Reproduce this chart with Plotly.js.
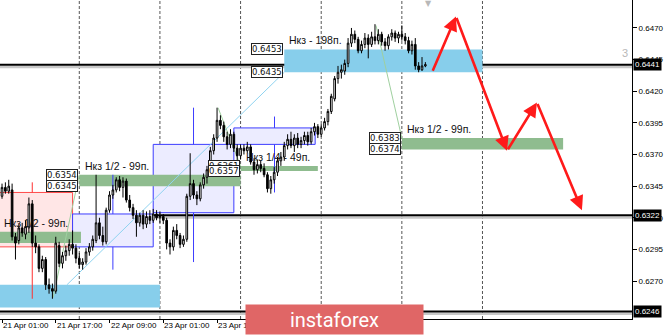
<!DOCTYPE html>
<html><head><meta charset="utf-8">
<script src="https://cdn.plot.ly/plotly-3.0.1.min.js"></script>
<style>html,body{margin:0;padding:0;background:#fff}#chart{width:665px;height:335px}</style>
</head><body><div id="chart"></div>
<script>
// ---- hourly candles (bar index 0 = 21 Apr 01:00) ----
const openP = [0.6337,0.6344,0.6341,0.6342,0.6305,0.6302,0.6312,0.6307,0.6312,0.6331,
 0.6300,0.6297,0.6280,0.6287,0.6267,0.6264,0.6262,0.6298,0.6284,0.6290,
 0.6294,0.6299,0.6296,0.6288,0.6283,0.6285,0.6293,0.6297,0.6302,0.6316,
 0.6306,0.6301,0.6326,0.6338,0.6342,0.6350,0.6344,0.6349,0.6334,0.6328,
 0.6322,0.6316,0.6322,0.6315,0.6321,0.6318,0.6323,0.6320,0.6321,0.6318,
 0.6300,0.6297,0.6310,0.6306,0.6299,0.6303,0.6337,0.6347,0.6338,0.6335,
 0.6346,0.6352,0.6358,0.6373,0.6383,0.6397,0.6393,0.6384,0.6378,0.6386,
 0.6375,0.6369,0.6375,0.6373,0.6376,0.6364,0.6358,0.6362,0.6359,0.6354,
 0.6343,0.6350,0.6356,0.6365,0.6368,0.6377,0.6382,0.6377,0.6383,0.6378,
 0.6381,0.6385,0.6380,0.6388,0.6392,0.6386,0.6391,0.6396,0.6404,0.6414,
 0.6430,0.6435,0.6436,0.6442,0.6458,0.6465,0.6461,0.6452,0.6457,0.6462,
 0.6457,0.6463,0.6460,0.6465,0.6459,0.6456,0.6463,0.6466,0.6462,0.6465,
 0.6463,0.6460,0.6452,0.6457,0.6440,0.6437,0.6440];
const highP = [0.6347,0.6348,0.6350,0.6347,0.6308,0.6315,0.6316,0.6318,0.6336,0.6334,
 0.6306,0.6299,0.6290,0.6289,0.6272,0.6268,0.6305,0.6301,0.6293,0.6298,
 0.6303,0.6310,0.6299,0.6292,0.6288,0.6296,0.6300,0.6306,0.6354,0.6320,
 0.6313,0.6328,0.6341,0.6346,0.6352,0.6353,0.6352,0.6351,0.6338,0.6331,
 0.6326,0.6324,0.6326,0.6325,0.6326,0.6327,0.6326,0.6325,0.6323,0.6320,
 0.6303,0.6313,0.6315,0.6308,0.6306,0.6339,0.6371,0.6350,0.6341,0.6348,
 0.6355,0.6361,0.6376,0.6386,0.6407,0.6401,0.6396,0.6388,0.6390,0.6388,
 0.6378,0.6378,0.6378,0.6380,0.6378,0.6367,0.6366,0.6365,0.6363,0.6356,
 0.6353,0.6360,0.6368,0.6372,0.6380,0.6386,0.6388,0.6386,0.6387,0.6384,
 0.6388,0.6388,0.6391,0.6395,0.6394,0.6394,0.6399,0.6406,0.6418,0.6432,
 0.6440,0.6441,0.6445,0.6462,0.6470,0.6468,0.6463,0.6460,0.6466,0.6465,
 0.6467,0.6473,0.6469,0.6467,0.6462,0.6465,0.6469,0.6468,0.6467,0.6472,
 0.6466,0.6463,0.6460,0.6462,0.6443,0.6447,0.6443];
const lowP = [0.6335,0.6339,0.6339,0.6302,0.6287,0.6299,0.6305,0.6303,0.6308,0.6297,
 0.6292,0.6277,0.6277,0.6263,0.6260,0.6256,0.6260,0.6281,0.6280,0.6286,
 0.6290,0.6291,0.6284,0.6280,0.6279,0.6283,0.6290,0.6294,0.6300,0.6303,
 0.6298,0.6299,0.6324,0.6335,0.6340,0.6341,0.6336,0.6332,0.6325,0.6319,
 0.6305,0.6313,0.6311,0.6312,0.6315,0.6316,0.6318,0.6316,0.6315,0.6295,
 0.6291,0.6294,0.6303,0.6296,0.6297,0.6301,0.6334,0.6335,0.6330,0.6333,
 0.6343,0.6347,0.6356,0.6370,0.6380,0.6390,0.6380,0.6374,0.6375,0.6372,
 0.6364,0.6366,0.6370,0.6371,0.6362,0.6354,0.6355,0.6356,0.6352,0.6340,
 0.6339,0.6347,0.6353,0.6361,0.6365,0.6374,0.6375,0.6372,0.6375,0.6375,
 0.6378,0.6377,0.6378,0.6385,0.6383,0.6384,0.6389,0.6393,0.6402,0.6412,
 0.6426,0.6430,0.6433,0.6439,0.6455,0.6458,0.6450,0.6450,0.6454,0.6446,
 0.6455,0.6457,0.6457,0.6456,0.6452,0.6453,0.6460,0.6459,0.6458,0.6460,
 0.6457,0.6450,0.6449,0.6437,0.6435,0.6436,0.6439];
const closeP = [0.6344,0.6341,0.6345,0.6305,0.6300,0.6312,0.6308,0.6313,0.6331,0.6300,
 0.6297,0.6280,0.6287,0.6267,0.6264,0.6262,0.6300,0.6284,0.6290,0.6294,
 0.6299,0.6296,0.6288,0.6283,0.6285,0.6293,0.6297,0.6303,0.6316,0.6306,
 0.6301,0.6326,0.6338,0.6342,0.6350,0.6344,0.6349,0.6334,0.6328,0.6322,
 0.6316,0.6322,0.6315,0.6321,0.6318,0.6323,0.6320,0.6321,0.6318,0.6300,
 0.6297,0.6310,0.6306,0.6299,0.6303,0.6337,0.6347,0.6338,0.6335,0.6346,
 0.6352,0.6358,0.6373,0.6383,0.6397,0.6393,0.6384,0.6378,0.6386,0.6375,
 0.6369,0.6375,0.6373,0.6376,0.6364,0.6358,0.6362,0.6359,0.6354,0.6343,
 0.6350,0.6356,0.6365,0.6368,0.6377,0.6382,0.6377,0.6383,0.6378,0.6381,
 0.6385,0.6380,0.6388,0.6392,0.6386,0.6391,0.6396,0.6404,0.6416,0.6430,
 0.6435,0.6437,0.6442,0.6458,0.6465,0.6461,0.6452,0.6457,0.6462,0.6457,
 0.6463,0.6460,0.6465,0.6459,0.6456,0.6463,0.6466,0.6462,0.6465,0.6463,
 0.6460,0.6452,0.6457,0.6440,0.6437,0.6440,0.6441];

// ---- axis ----
const xTickIdx = [0, 16, 32, 48, 64];
const xTickLabels = ['21 Apr 01:00', '21 Apr 17:00', '22 Apr 09:00', '23 Apr 01:00', '23 Apr 17:00'];
const yTickVals = [0.6470, 0.6445, 0.6420, 0.6395, 0.6370, 0.6345, 0.6320, 0.6295, 0.6270];
const gridIdx = [23, 47, 71, 95, 119, 143];

// ---- horizontal levels ----
const levelPrices = [0.6441, 0.6322, 0.6246];

// ---- zones ----
const zoneStart  = [84, -5, 119, 23, -5, 71];
const zoneEnd    = [143, 47, 167, 71, 23.5, 94];
const zoneTop    = [0.6453, 0.6267, 0.6383, 0.6354, 0.6309, 0.6361];
const zoneBottom = [0.6435, 0.6249, 0.6374, 0.6345, 0.6300, 0.6357];
const zoneLabel  = ['Нкз - 198п.', '', 'Нкз 1/2 - 99п.', 'Нкз 1/2 - 99п.', 'Нкз 1/2 - 99п.', 'Нкз 1/4 - 49п.'];
const zoneBoxes  = [['0.6453','0.6435'], [], ['0.6383','0.6374'], ['0.6354','0.6345'], [], ['0.6361','0.6357']];

// ---- higher-timeframe candles drawn as boxes ----
const dStart = [-3, 21, 45, 69];
const dEnd   = [21, 45, 69, 93.2];
const dOpen  = [0.6340, 0.6297, 0.6324, 0.6378];
const dHigh  = [0.6348, 0.6354, 0.6407, 0.6400];
const dLow   = [0.6256, 0.6279, 0.6285, 0.6340];
const dClose = [0.6297, 0.6323, 0.6378, 0.6391];

// ---- trend lines [x0, y0, x1, y1] ----
const blueLine = [19.3, 0.6267, 84, 0.6435];
const greenLines = [[15.2, 0.6257, 23, 0.6354], [64.3, 0.6407, 71, 0.6361], [111.3, 0.6472, 119, 0.6383]];

// ---- forecast path (red arrows) ----
const pathX = [128.0, 135.1, 150.3, 159.2, 172.6];
const pathY = [0.6435, 0.6479, 0.6373, 0.6411, 0.6326];

const idx = openP.map((_, i) => i);
const FONT = 'Liberation Sans, Arial, sans-serif';

const zoneStyle = ['#87CEEB', '#87CEEB', '#8FBC8F', '#8FBC8F', '#8FBC8F', '#8FBC8F'];
const labelX = [84.8, null, 120, 24, 0, 72];

const shapes = [];
for (let i = 0; i < dStart.length; i++) {
  const bull = dClose[i] >= dOpen[i];
  shapes.push({type:'rect', layer:'below', xref:'x', yref:'y',
    x0:dStart[i], x1:dEnd[i], y0:Math.min(dOpen[i], dClose[i]), y1:Math.max(dOpen[i], dClose[i]),
    fillcolor: bull ? '#ececff' : '#ffe6e6', line:{color: bull ? '#3c3cff' : '#ff4a4a', width:1}});
}
for (let i = 0; i < zoneStart.length; i++) {
  shapes.push({type:'rect', layer:'below', xref:'x', yref:'y',
    x0:zoneStart[i], x1:zoneEnd[i], y0:zoneBottom[i], y1:zoneTop[i],
    fillcolor:zoneStyle[i], line:{width:0}});
}
for (let i = 0; i < dStart.length; i++) {
  const bull = dClose[i] >= dOpen[i];
  const c = (dStart[i] + dEnd[i]) / 2;
  const col = bull ? '#3c3cff' : '#ff3030';
  shapes.push({type:'line', layer:'below', xref:'x', yref:'y', x0:c, x1:c,
    y0:Math.max(dOpen[i], dClose[i]), y1:dHigh[i], line:{color:col, width:1}});
  shapes.push({type:'line', layer:'below', xref:'x', yref:'y', x0:c, x1:c,
    y0:Math.min(dOpen[i], dClose[i]), y1:dLow[i], line:{color:col, width:1}});
}
shapes.push({type:'line', layer:'below', xref:'x', yref:'y', x0:blueLine[0], y0:blueLine[1], x1:blueLine[2], y1:blueLine[3],
  line:{color:'#8fd3f0', width:1}});
greenLines.forEach(g => shapes.push({type:'line', layer:'below', xref:'x', yref:'y', x0:g[0], y0:g[1], x1:g[2], y1:g[3],
  line:{color:'#9fd09f', width:1}}));
gridIdx.forEach(g => shapes.push({type:'line', layer:'below', xref:'x', yref:'paper', x0:g, x1:g, y0:0, y1:1,
  line:{color:'#555', width:1, dash:'3px,2px'}}));
levelPrices.forEach(p => {
  shapes.push({type:'rect', layer:'below', xref:'paper', yref:'y', ysizemode:'pixel', yanchor:p,
    x0:0, x1:1, y0:-1, y1:-3.5, fillcolor:'#c8c8c8', line:{width:0}});
  shapes.push({type:'rect', layer:'below', xref:'paper', yref:'y', ysizemode:'pixel', yanchor:p,
    x0:0, x1:1, y0:1, y1:-1, fillcolor:'#000', line:{width:0}});
});

const annotations = [];
for (let i = 0; i < zoneStart.length; i++) {
  if (zoneLabel[i]) {
    annotations.push({xref:'x', yref:'y', x:labelX[i], y:zoneTop[i], xanchor:'left', yanchor:'bottom', yshift:1,
      text:zoneLabel[i], showarrow:false, font:{family:FONT, size:10.5, color:'#111'}});
  }
  const boxes = zoneBoxes[i];
  const vals = [zoneTop[i], zoneBottom[i]];
  boxes.forEach((t, k) => annotations.push({xref:'x', yref:'y', x:zoneStart[i], y:vals[k], xanchor:'right', yanchor:'middle',
    xshift:-1, text:t, showarrow:false, bgcolor:'#fff', bordercolor:'#222', borderwidth:1, borderpad:0,
    font:{family:'DejaVu Sans, sans-serif', size:8.5, color:'#111'}}));
}
for (let i = 1; i < pathX.length; i++) {
  annotations.push({xref:'x', yref:'y', axref:'x', ayref:'y', x:pathX[i], y:pathY[i], ax:pathX[i-1], ay:pathY[i-1],
    text:'', showarrow:true, arrowhead:2, arrowsize:1.1, arrowwidth:2.6, arrowcolor:'#ff1a1a', standoff:0, startstandoff:0});
}
// x-axis labels (MT4 style: text to the right of its tick)
xTickIdx.forEach((v, k) => annotations.push({xref:'x', yref:'paper', x:v, y:0, xanchor:'left', yanchor:'top',
  xshift:0, yshift:-1, text:xTickLabels[k], showarrow:false, borderpad:0, font:{family:FONT, size:8, color:'#000'}}));
levelPrices.forEach(p => annotations.push({xref:'paper', yref:'y', x:1, y:p, xanchor:'left', yanchor:'middle', xshift:1,
  text:p.toFixed(4), showarrow:false, bgcolor:'#000', borderpad:1, font:{family:FONT, size:8, color:'#fff'}}));
annotations.push({xref:'x', yref:'y', x:185.4, y:0.6450, text:'3', showarrow:false,
  font:{family:FONT, size:11, color:'#b8b8b8'}});
annotations.push({xref:'x', yref:'paper', x:126.8, y:1, yanchor:'top', yshift:3, text:'▼', showarrow:false,
  font:{family:'DejaVu Sans', size:8, color:'#b8b8b8'}});
annotations.push({xref:'paper', yref:'paper', x:245/632, y:15/319, xanchor:'left', yanchor:'top',
  width:177, height:29, borderpad:0, bgcolor:'#e06666', text:'instaforex', showarrow:false,
  font:{family:'Roboto, sans-serif', size:20, color:'#fff'}});

const trace = {type:'candlestick', x:idx, open:openP, high:highP, low:lowP, close:closeP,
  increasing:{line:{color:'#000', width:1}, fillcolor:'#fff'},
  decreasing:{line:{color:'#000', width:1}, fillcolor:'#000'},
  whiskerwidth:0, hoverinfo:'skip'};

const layout = {
  width:665, height:335, margin:{l:0, r:33, t:0, b:16, pad:0},
  paper_bgcolor:'#fff', plot_bgcolor:'#fff', showlegend:false,
  xaxis:{range:[-0.6, 187.5], rangeslider:{visible:false}, showgrid:false, zeroline:false,
    tickmode:'array', tickvals:xTickIdx, ticks:'outside', ticklen:3, tickcolor:'#000',
    showticklabels:false, showline:true, linecolor:'#000', linewidth:1, mirror:true, fixedrange:true},
  yaxis:{range:[0.62400, 0.64921], side:'right', showgrid:false, zeroline:false,
    tickmode:'array', tickvals:yTickVals, ticktext:yTickVals.map(v => v.toFixed(4)),
    ticks:'outside', ticklen:4, tickcolor:'#000', tickfont:{family:FONT, size:8, color:'#000'},
    showline:true, linecolor:'#000', linewidth:1, fixedrange:true},
  shapes:shapes, annotations:annotations
};

Plotly.newPlot('chart', [trace], layout, {displayModeBar:false, staticPlot:true});
</script>
</body></html>
